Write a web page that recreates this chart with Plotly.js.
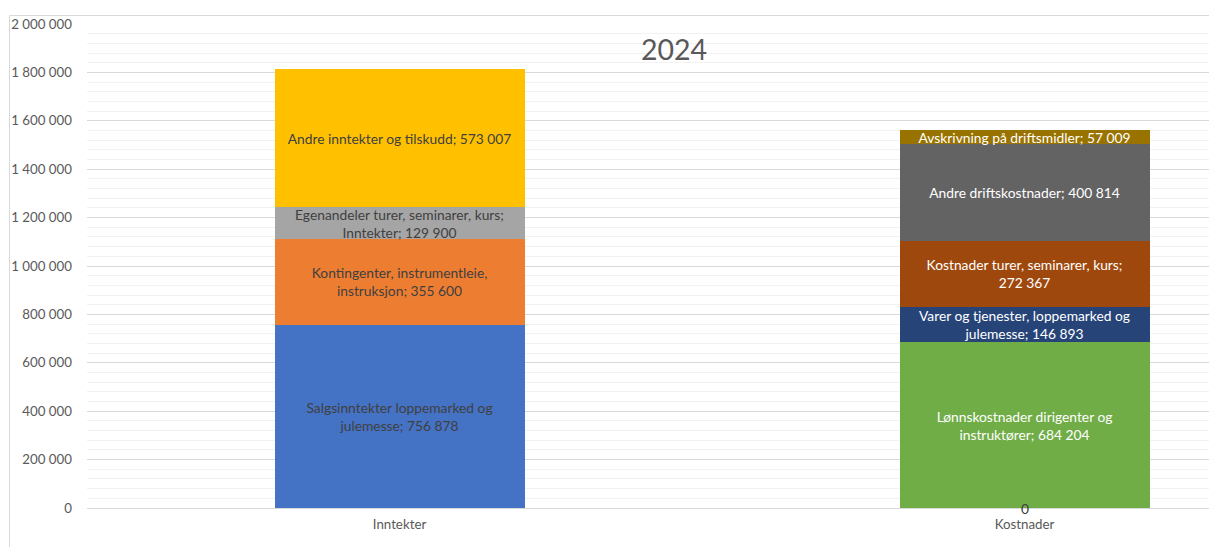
<!DOCTYPE html>
<html>
<head>
<meta charset="utf-8">
<script src="https://cdn.plot.ly/plotly-3.0.1.min.js"></script>
<style>html,body{margin:0;padding:0;background:#fff;}#chart{width:1209px;height:547px;}</style>
</head>
<body>
<div id="chart"></div>
<script>
// ---- data ----
const categories = ['Inntekter', 'Kostnader'];

const incomeNames = [
  'Salgsinntekter loppemarked og julemesse',
  'Kontingenter, instrumentleie, instruksjon',
  'Egenandeler turer, seminarer, kurs',
  'Andre inntekter og tilskudd'
];
const incomeLabels = [
  'Salgsinntekter loppemarked og<br>julemesse; ',
  'Kontingenter, instrumentleie,<br>instruksjon; ',
  'Egenandeler turer, seminarer, kurs;<br>Inntekter; ',
  'Andre inntekter og tilskudd; '
];
const incomeValues = [756878, 355600, 129900, 573007];

const costNames = [
  'Lønnskostnader dirigenter og instruktører',
  'Varer og tjenester, loppemarked og julemesse',
  'Kostnader turer, seminarer, kurs',
  'Andre driftskostnader',
  'Avskrivning på driftsmidler'
];
const costLabels = [
  'Lønnskostnader dirigenter og<br>instruktører; ',
  'Varer og tjenester, loppemarked og<br>julemesse; ',
  'Kostnader turer, seminarer, kurs;<br>',
  'Andre driftskostnader; ',
  'Avskrivning på driftsmidler; '
];
const costValues = [684204, 146893, 272367, 400814, 57009];

const yTickValues = [0, 200000, 400000, 600000, 800000, 1000000, 1200000, 1400000, 1600000, 1800000, 2000000];
const chartTitle = '2024';

// ---- styles ----
const incomeColors = ['#4472C4', '#ED7D31', '#A5A5A5', '#FFC000'];
const costColors = ['#70AD47', '#264478', '#9E480E', '#636363', '#997300'];
const FONT = 'Lato, "Open Sans", sans-serif';
const LABEL_SIZE = 13.8;

const traces = [];
incomeNames.forEach((n, i) => {
  traces.push({
    type: 'bar', name: n, x: [categories[0]], y: [incomeValues[i]],
    text: [incomeLabels[i]], texttemplate: '%{text}%{y:,d}',
    textposition: 'inside', insidetextanchor: 'middle', textangle: 0,
    constraintext: 'none',
    insidetextfont: {family: FONT, size: LABEL_SIZE, color: '#404040'},
    marker: {color: incomeColors[i], line: {width: 0}},
    width: 0.4, hoverinfo: 'name+y'
  });
});
costNames.forEach((n, i) => {
  traces.push({
    type: 'bar', name: n, x: [categories[1]], y: [costValues[i]],
    text: [costLabels[i]], texttemplate: '%{text}%{y:,d}',
    textposition: 'inside', insidetextanchor: 'middle', textangle: 0,
    constraintext: 'none',
    insidetextfont: {family: FONT, size: LABEL_SIZE, color: '#FFFFFF'},
    marker: {color: costColors[i], line: {width: 0}},
    width: 0.4, hoverinfo: 'name+y'
  });
});

const plotLeft = 87, plotRight = 1209, plotTop = 24, plotBottom = 508;
const pw = plotRight - plotLeft, ph = plotBottom - plotTop;
const px = v => (v - plotLeft) / pw;
const py = v => (plotBottom - v) / ph;

const layout = {
  width: 1209, height: 547,
  margin: {l: plotLeft, r: 1209 - plotRight, t: plotTop, b: 547 - plotBottom, pad: 0},
  paper_bgcolor: '#FFFFFF', plot_bgcolor: '#FFFFFF',
  separators: ', ',
  barmode: 'stack',
  showlegend: false,
  font: {family: FONT, color: '#595959', size: 13.3},
  title: {
    text: chartTitle, font: {family: FONT, size: 28.5, color: '#595959'},
    xref: 'paper', x: px(674), xanchor: 'center',
    yref: 'paper', y: py(50), yanchor: 'middle'
  },
  xaxis: {
    type: 'category', categoryarray: categories,
    range: [-0.5, -0.5 + pw / 625],
    showgrid: false, zeroline: false, showline: false, ticks: '',
    tickfont: {family: FONT, size: 13.3, color: '#595959'},
    ticklabelstandoff: 7
  },
  yaxis: {
    range: [0, 2000000], tickvals: yTickValues, tickformat: ',d',
    showgrid: true, gridcolor: '#D9D9D9', gridwidth: 1,
    zeroline: true, zerolinecolor: '#D9D9D9', zerolinewidth: 1,
    showline: false, ticks: '',
    tickfont: {family: FONT, size: 13.3, color: '#595959'},
    ticklabelstandoff: 14,
    minor: {dtick: 40000, tick0: 0, showgrid: true, gridcolor: '#F2F2F2', gridwidth: 1, ticks: ''}
  },
  annotations: [{
    x: categories[1], y: 0, xref: 'x', yref: 'y', text: '0', showarrow: false,
    font: {family: FONT, size: LABEL_SIZE, color: '#404040'}, yanchor: 'middle', xanchor: 'center'
  }],
  shapes: [{
    type: 'rect', xref: 'paper', yref: 'paper',
    x0: px(9.5), x1: px(1400), y0: py(15.5), y1: py(600),
    line: {color: '#D9D9D9', width: 1}, fillcolor: 'rgba(0,0,0,0)', layer: 'below'
  }]
};

Plotly.newPlot('chart', traces, layout, {displayModeBar: false, staticPlot: true});
</script>
</body>
</html>
